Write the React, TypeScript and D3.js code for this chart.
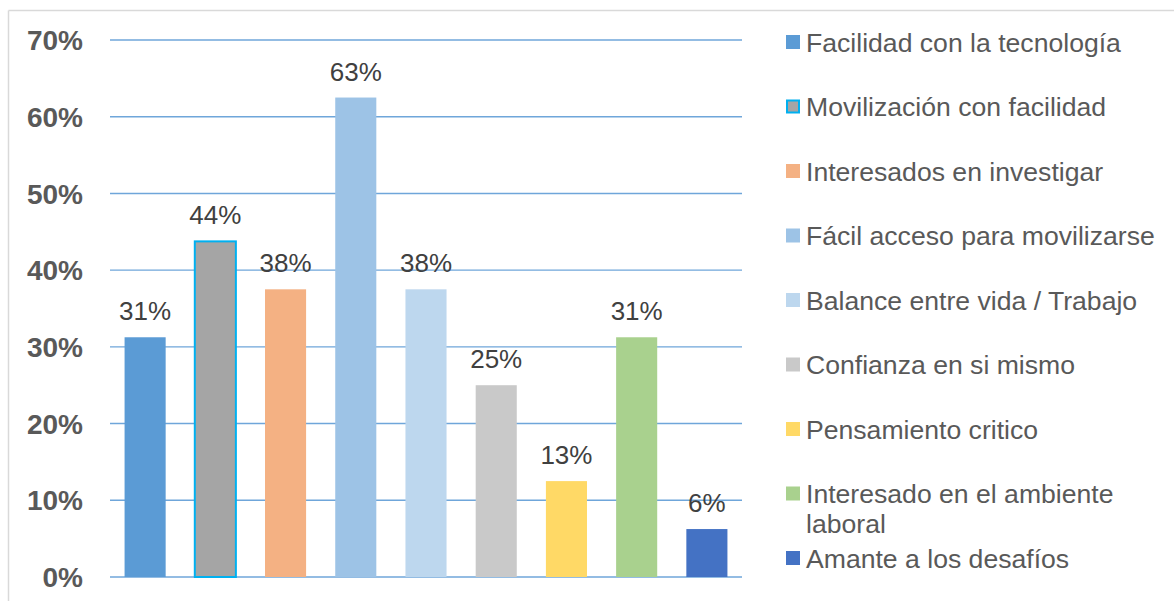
import React from "react";
import * as d3 from "d3";

const categories = [
  "Facilidad con la tecnología",
  "Movilización con facilidad",
  "Interesados en investigar",
  "Fácil acceso para movilizarse",
  "Balance entre vida / Trabajo",
  "Confianza en si mismo",
  "Pensamiento critico",
  "Interesado en el ambiente laboral",
  "Amante a los desafíos",
];
const values = [0.3125, 0.4375, 0.375, 0.625, 0.375, 0.25, 0.125, 0.3125, 0.0625];
const valueLabels = ["31%", "44%", "38%", "63%", "38%", "25%", "13%", "31%", "6%"];
const colors = ["#5B9BD5", "#A5A5A5", "#F4B183", "#9DC3E6", "#BDD7EE", "#C9C9C9", "#FFD966", "#A9D18E", "#4472C4"];
const legendLines = [
  ["Facilidad con la tecnología"],
  ["Movilización con facilidad"],
  ["Interesados en investigar"],
  ["Fácil acceso para movilizarse"],
  ["Balance entre vida / Trabajo"],
  ["Confianza en si mismo"],
  ["Pensamiento critico"],
  ["Interesado en el ambiente", "laboral"],
  ["Amante a los desafíos"],
];
const yTicks = [0, 0.1, 0.2, 0.3, 0.4, 0.5, 0.6, 0.7];

const W = 1174;
const H = 601;
const plot = { left: 110, right: 742, top: 40, bottom: 577 };
const font = "Arial, 'Liberation Sans', Helvetica, sans-serif";

export default function App() {
  const x = d3
    .scaleBand<string>()
    .domain(categories)
    .range([plot.left, plot.right])
    .paddingInner(0.415)
    .paddingOuter(0.2075);
  const y = d3.scaleLinear().domain([0, 0.7]).range([plot.bottom, plot.top]);
  const legendY = d3.scaleLinear().domain([0, 8]).range([42, 558]);

  return (
    <svg
      width={W}
      height={H}
      style={{ position: "absolute", left: 0, top: 0, display: "block", background: "#fff" }}
      fontFamily={font}
    >
      <rect x={0} y={0} width={W} height={H} fill="#fff" />
      <line x1={8.5} x2={W} y1={10.5} y2={10.5} stroke="#D9D9D9" strokeWidth={1.5} />
      <line x1={8.5} x2={8.5} y1={10.5} y2={H} stroke="#D9D9D9" strokeWidth={1.5} />

      {yTicks.map((t) => (
        <g key={t}>
          <line
            x1={plot.left}
            x2={plot.right}
            y1={y(t)}
            y2={y(t)}
            stroke="#6FA6DA"
            strokeWidth={1.4}
          />
          <text
            x={83}
            y={y(t)}
            dy="0.36em"
            textAnchor="end"
            fontSize={28}
            fontWeight="bold"
            fill="#595959"
          >
            {d3.format(".0%")(t)}
          </text>
        </g>
      ))}

      {categories.map((c, i) => {
        const bx = x(c)!;
        const bw = x.bandwidth();
        const top = y(values[i]);
        return (
          <g key={c}>
            <rect
              x={bx}
              y={top}
              width={bw}
              height={plot.bottom - top}
              fill={colors[i]}
              stroke={i === 1 ? "#00B0F0" : "none"}
              strokeWidth={i === 1 ? 2 : 0}
            />
            <text
              x={bx + bw / 2}
              y={top - 17}
              textAnchor="middle"
              fontSize={26}
              fill="#404040"
            >
              {valueLabels[i]}
            </text>
          </g>
        );
      })}

      {legendLines.map((lines, i) => {
        const cy = legendY(i);
        return (
          <g key={i}>
            <rect
              x={i === 1 ? 787 : 786}
              y={cy - 7 + (i === 1 ? 1 : 0)}
              width={i === 1 ? 12 : 14}
              height={i === 1 ? 12 : 14}
              fill={colors[i]}
              stroke={i === 1 ? "#00B0F0" : "none"}
              strokeWidth={i === 1 ? 2 : 0}
            />
            {lines.map((ln, j) => (
              <text
                key={j}
                x={806}
                y={cy + j * 30}
                dy="0.36em"
                fontSize={26.6}
                fill="#595959"
              >
                {ln}
              </text>
            ))}
          </g>
        );
      })}
    </svg>
  );
}
